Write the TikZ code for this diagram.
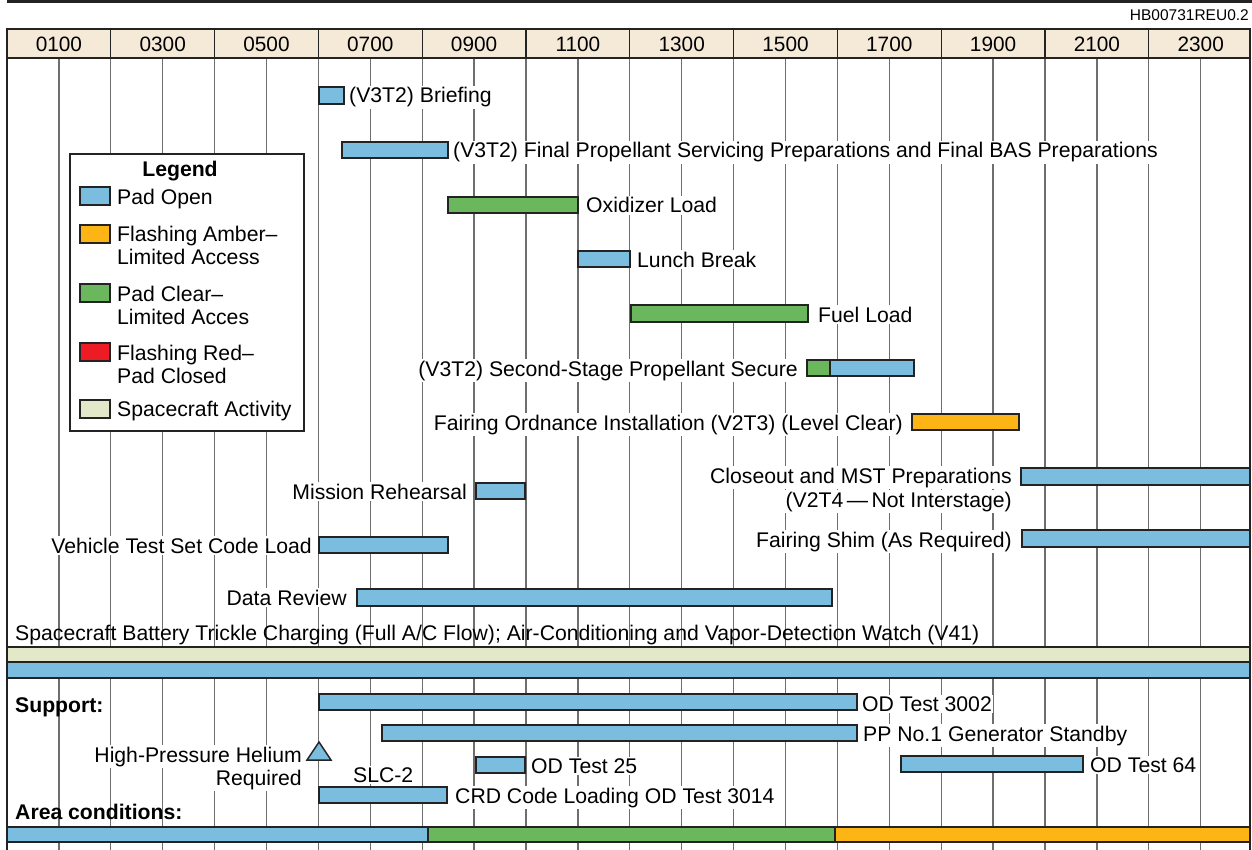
\documentclass[tikz,border=0pt]{standalone}
\usepackage{fontspec}
\setmainfont{Liberation Sans}
\definecolor{padblue}{RGB}{122,189,223}
\definecolor{padgreen}{RGB}{106,183,93}
\definecolor{amber}{RGB}{253,180,21}
\definecolor{padred}{RGB}{237,28,36}
\definecolor{scbeige}{RGB}{226,232,200}
\definecolor{headbg}{RGB}{245,233,215}
\definecolor{barline}{RGB}{35,35,35}
\definecolor{gridgray}{RGB}{110,110,110}
\begin{document}
\begin{tikzpicture}[x=1pt,y=-1pt,
  bar/.style={draw=barline,line width=1.8pt},
  lbl/.style={font=\fontsize{21.2}{24}\selectfont,inner sep=1.5pt,fill=white},
  plain/.style={font=\fontsize{21.2}{24}\selectfont,inner sep=0pt},
  headlbl/.style={font=\fontsize{20.8}{24}\selectfont,inner sep=0pt},
  boldlbl/.style={font=\fontsize{21.2}{24}\selectfont\bfseries,inner sep=0pt},
  gridline/.style={draw=gridgray,line width=1.3pt}]
\useasboundingbox (0,0) rectangle (1252,850);
\begin{scope}
\clip (0,0) rectangle (1252,850);
% top rule and code
\draw[draw=barline,line width=3pt] (7,1.5) -- (1252,1.5);
\node[font=\fontsize{15.5}{18}\selectfont,inner sep=0pt,anchor=base east] (code) at (1249,21) {HB00731REU0.2};
% grid
\foreach \t in {1,...,23} \draw[gridline] ({7+51.9*\t},58) -- ({7+51.9*\t},850);
% header
\draw[fill=headbg,draw=barline,line width=2.2pt] (7,29) rectangle (1250,58);
\foreach \t in {2,4,...,22} \draw[draw=barline,line width=1.3pt] ({7+51.9*\t},29) -- ({7+51.9*\t},58);
\foreach \t/\s in {1/0100,3/0300,5/0500,7/0700,9/0900,11/1100,13/1300,15/1500,17/1700,19/1900,21/2100,23/2300}
  \node[headlbl,anchor=base] (hd\s) at ({7+51.9*\t},52) {\s};
% frame sides
\draw[draw=barline,line width=2.4pt] (7,29) -- (7,850);
\draw[draw=barline,line width=2.4pt] (1250,29) -- (1250,850);
% legend
\draw[fill=white,draw=barline,line width=1.3pt] (70,154) rectangle (304,431);
\node[boldlbl,anchor=base] (legT) at (180,177) {Legend};
\draw[bar,line width=1.6pt,fill=padblue] (80,187) rectangle (110,205);
\draw[bar,line width=1.6pt,fill=amber] (80,225) rectangle (110,243);
\draw[bar,line width=1.6pt,fill=padgreen] (80,284) rectangle (110,302);
\draw[bar,line width=1.6pt,fill=padred] (80,343) rectangle (110,361);
\draw[bar,line width=1.6pt,fill=scbeige] (80,400) rectangle (110,418);
\node[plain,anchor=base west] (lg1) at (117,205) {Pad Open};
\node[plain,anchor=base west] (lg2a) at (117,242) {Flashing Amber–};
\node[plain,anchor=base west] (lg2b) at (117,265) {Limited Access};
\node[plain,anchor=base west] (lg3a) at (117,301) {Pad Clear–};
\node[plain,anchor=base west] (lg3b) at (117,324) {Limited Acces};
\node[plain,anchor=base west] (lg4a) at (117,360) {Flashing Red–};
\node[plain,anchor=base west] (lg4b) at (117,383) {Pad Closed};
\node[plain,anchor=base west] (lg5) at (117,416) {Spacecraft Activity};
% activity bars
\draw[bar,fill=padblue] (319,87) rectangle (344,104);
\draw[bar,fill=padblue] (342,142) rectangle (448,158);
\draw[bar,fill=padgreen] (448,197) rectangle (578,213);
\draw[bar,fill=padblue] (578,251) rectangle (630,267);
\draw[bar,fill=padgreen] (631,305) rectangle (808,322);
\draw[bar,fill=padgreen] (807,360) rectangle (830,376);
\draw[bar,fill=padblue] (830,360) rectangle (914,376);
\draw[bar,fill=amber] (912,414) rectangle (1019,430);
\draw[bar,fill=padblue] (1021,468) rectangle (1250,485);
\draw[bar,fill=padblue] (476,483) rectangle (525,499);
\draw[bar,fill=padblue] (1022,530) rectangle (1250,547);
\draw[bar,fill=padblue] (319,537) rectangle (448,553);
\draw[bar,fill=padblue] (357,589) rectangle (832,606);
% full width bars
\draw[bar,fill=scbeige] (7,647) rectangle (1250,662);
\draw[bar,fill=padblue] (7,662) rectangle (1250,678);
% support bars
\draw[bar,fill=padblue] (319,694) rectangle (857,710);
\draw[bar,fill=padblue] (382,725) rectangle (857,741);
\draw[bar,fill=padblue] (476,757) rectangle (525,773);
\draw[bar,fill=padblue] (901,756) rectangle (1083,772);
\draw[bar,fill=padblue] (319,787) rectangle (447,803);
% area conditions
\draw[bar,fill=padblue] (7,827) rectangle (428,842);
\draw[bar,fill=padgreen] (428,827) rectangle (835,842);
\draw[bar,fill=amber] (835,827) rectangle (1250,842);
% labels
\node[lbl,anchor=base west] (briefT) at (347.5,103) {(V3T2) Briefing};
\node[lbl,anchor=base west] (fpsT) at (451.5,158) {(V3T2) Final Propellant Servicing Preparations and Final BAS Preparations};
\node[lbl,anchor=base west] (oxT) at (584.5,213) {Oxidizer Load};
\node[lbl,anchor=base west] (lunchT) at (635.5,267) {Lunch Break};
\node[lbl,anchor=base west] (fuelT) at (816.5,322) {Fuel Load};
\node[lbl,anchor=base east] (ssT) at (799.5,376) {(V3T2) Second-Stage Propellant Secure};
\node[lbl,anchor=base east] (foT) at (904.5,430) {Fairing Ordnance Installation (V2T3) (Level Clear)};
\node[lbl,anchor=base east] (coT1) at (1013.5,483) {Closeout and MST Preparations};
\node[lbl,anchor=base east] (coT2) at (1013.5,507) {(V2T4\,—\,Not Interstage)};
\node[lbl,anchor=base east] (mrT) at (468.5,499) {Mission Rehearsal};
\node[lbl,anchor=base east] (fsT) at (1013.5,547) {Fairing Shim (As Required)};
\node[lbl,anchor=base east] (vtT) at (313.5,553) {Vehicle Test Set Code Load};
\node[lbl,anchor=base east] (drT) at (348.5,605) {Data Review};
\node[plain,anchor=base west] (scT) at (15,640) {Spacecraft Battery Trickle Charging (Full A/C Flow); Air-Conditioning and Vapor-Detection Watch (V41)};
\node[boldlbl,anchor=base west] (supT) at (15,712) {Support:};
\node[lbl,anchor=base west] (od3002T) at (860.5,711) {OD Test 3002};
\node[lbl,anchor=base west] (ppT) at (861.5,741) {PP No.1 Generator Standby};
\node[lbl,anchor=base east] (hpT1) at (303.5,762) {High-Pressure Helium};
\node[lbl,anchor=base east] (hpT2) at (303.5,785) {Required};
\node[lbl,anchor=base west] (slcT) at (351.5,782) {SLC-2};
\node[lbl,anchor=base west] (od25T) at (529.5,773) {OD Test 25};
\node[lbl,anchor=base west] (od64T) at (1088.5,772) {OD Test 64};
\node[lbl,anchor=base west] (crdT) at (453.5,803) {CRD Code Loading OD Test 3014};
\node[boldlbl,anchor=base west] (areaT) at (15,819) {Area conditions:};
% helium marker
\draw[bar,line width=1.5pt,fill=padblue,line join=miter] (319,742) -- (331,760) -- (307,760) -- cycle;
\end{scope}
\end{tikzpicture}
\end{document}
